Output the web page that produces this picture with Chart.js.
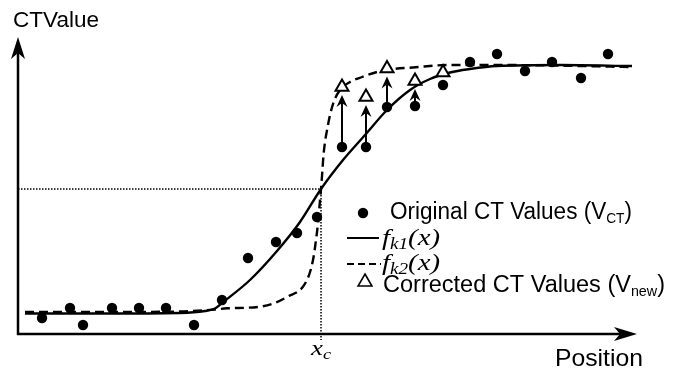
<!DOCTYPE html>
<html>
<head>
<meta charset="utf-8">
<script src="https://cdn.jsdelivr.net/npm/chart.js@4/dist/chart.umd.min.js"></script>
<style>
  html, body { margin: 0; padding: 0; background: #fff; }
  #wrap { width: 680px; height: 372px; position: relative; }
</style>
</head>
<body>
<div id="wrap"><canvas id="c"></canvas></div>
<script>
// ---- data (arbitrary units) ----
const originalX = [24, 52, 65, 94, 121, 148, 176, 204, 230, 258, 279, 299, 324, 348, 369, 397, 425, 452, 479, 507, 534, 563, 590];
const originalY = [16, 26, 9, 26, 26, 26, 9, 34, 76, 92, 101, 117, 187, 187, 227, 228, 249, 272, 280, 263, 272, 256, 280];

const correctedX = [324, 348, 369, 397, 425];
const correctedY = [247, 237, 265.5, 253, 261.5];
const correctedFrom = [187, 187, 227, 228, 249];

const fk1X = [7, 82, 162, 187, 197, 204, 232, 259, 282, 303, 325, 347, 369, 392, 412, 432, 452, 479, 542, 614];
const fk1Y = [20.5, 20.5, 21, 23, 25.5, 31, 54, 83, 112, 145, 174, 199, 224, 244, 255, 261.5, 265, 268, 269, 268];

const fk2X = [7, 82, 162, 197, 209, 242, 269, 289, 295, 298, 300, 301.5, 303, 304.3, 305.5, 310, 315, 322, 332, 344, 359, 375, 395, 429, 482, 614];
const fk2Y = [22, 22, 22.5, 24.5, 25.7, 27.3, 37, 54, 74, 94, 111, 128, 145, 162, 179, 209, 230, 244, 252, 257, 262, 265, 266.5, 269, 269, 267];

const xC = 303;       // critical position x_c
const fAtXc = 145;    // f(x_c)

const yAxisTitle = 'CTValue';
const xAxisTitle = 'Position';
const legendOriginal = ['Original CT Values (V', 'CT', ')'];
const legendFk1 = ['f', 'k1', '(x)'];
const legendFk2 = ['f', 'k2', '(x)'];
const legendCorrected = ['Corrected CT Values (V', 'new', ')'];
const xcLabel = ['x', 'c'];

const pts = (xs, ys) => xs.map((x, i) => ({ x, y: ys[i] }));

const SANS = '"Liberation Sans", Arial, sans-serif';
const SERIF = '"Liberation Serif", "Times New Roman", serif';

function drawRich(ctx, parts, x, y, targetW) {
  let w = 0;
  for (const p of parts) { ctx.font = p.font; w += ctx.measureText(p.t).width; }
  const sx = targetW ? targetW / w : 1;
  ctx.save();
  ctx.translate(x, y);
  ctx.scale(sx, 1);
  ctx.fillStyle = '#000';
  ctx.textBaseline = 'alphabetic';
  let cx = 0;
  for (const p of parts) {
    ctx.font = p.font;
    ctx.fillText(p.t, cx, p.dy || 0);
    cx += ctx.measureText(p.t).width;
  }
  ctx.restore();
}

function arrowHead(ctx, tx, ty, dir, len, half, notch) {
  ctx.beginPath();
  if (dir === 'up') {
    ctx.moveTo(tx, ty);
    ctx.lineTo(tx - half, ty + len);
    ctx.lineTo(tx, ty + len - notch);
    ctx.lineTo(tx + half, ty + len);
  } else {
    ctx.moveTo(tx, ty);
    ctx.lineTo(tx - len, ty - half);
    ctx.lineTo(tx - len + notch, ty);
    ctx.lineTo(tx - len, ty + half);
  }
  ctx.closePath();
  ctx.fill();
}

const decor = {
  id: 'decor',
  beforeDatasetsDraw(chart) {
    const { ctx, chartArea: a, scales: { x, y } } = chart;
    ctx.save();
    ctx.strokeStyle = '#000';
    ctx.fillStyle = '#000';
    // dotted guides
    ctx.lineWidth = 1.5;
    ctx.setLineDash([1.5, 1.5]);
    const px = x.getPixelForValue(xC), py = y.getPixelForValue(fAtXc);
    ctx.beginPath();
    ctx.moveTo(a.left, py); ctx.lineTo(px, py);
    ctx.moveTo(px, py); ctx.lineTo(px, a.bottom + 6);
    ctx.stroke();
    ctx.setLineDash([]);
    // axes
    ctx.lineWidth = 2.5;
    ctx.beginPath();
    ctx.moveTo(a.left, a.bottom + 1); ctx.lineTo(a.left, a.top + 10);
    ctx.moveTo(a.left - 1, a.bottom); ctx.lineTo(a.right - 10, a.bottom);
    ctx.stroke();
    arrowHead(ctx, a.left, a.top, 'up', 22, 7, 6);
    arrowHead(ctx, a.right, a.bottom, 'right', 23, 7, 6);
    // correction arrows
    ctx.lineWidth = 2;
    correctedX.forEach((cxv, i) => {
      if (correctedY[i] - correctedFrom[i] < 15) return;
      const ax = x.getPixelForValue(cxv);
      const y0 = y.getPixelForValue(correctedFrom[i]) - 4;
      const tip = y.getPixelForValue(correctedY[i]) + 8;
      ctx.beginPath();
      ctx.moveTo(ax, y0); ctx.lineTo(ax, tip + 8);
      ctx.stroke();
      arrowHead(ctx, ax, tip, 'up', 12, 5.5, 4);
    });
    ctx.restore();
  },
  afterDraw(chart) {
    const { ctx } = chart;
    ctx.save();
    // axis titles
    drawRich(ctx, [{ t: yAxisTitle, font: '22px ' + SANS }], 13, 27, 86);
    drawRich(ctx, [{ t: xAxisTitle, font: '24px ' + SANS }], 555, 366, 88);
    // x_c
    drawRich(ctx, [
      { t: xcLabel[0], font: 'italic 22px ' + SERIF },
      { t: xcLabel[1], font: 'italic 15px ' + SERIF, dy: 4 }
    ], 311, 355, 20);
    // legend markers
    ctx.fillStyle = '#000';
    ctx.strokeStyle = '#000';
    ctx.beginPath(); ctx.arc(363, 213, 5.2, 0, Math.PI * 2); ctx.fill();
    ctx.lineWidth = 2;
    ctx.beginPath(); ctx.moveTo(347, 238); ctx.lineTo(379, 238); ctx.stroke();
    ctx.setLineDash([7, 4]);
    ctx.beginPath(); ctx.moveTo(347, 264); ctx.lineTo(381, 264); ctx.stroke();
    ctx.setLineDash([]);
    ctx.lineWidth = 1.6;
    const r = 8, tcx = 365, tcy = 282;
    ctx.beginPath();
    ctx.moveTo(tcx, tcy - r);
    ctx.lineTo(tcx + r * Math.sin(2 * Math.PI / 3), tcy - r * Math.cos(2 * Math.PI / 3));
    ctx.lineTo(tcx + r * Math.sin(4 * Math.PI / 3), tcy - r * Math.cos(4 * Math.PI / 3));
    ctx.closePath(); ctx.stroke();
    // legend texts
    drawRich(ctx, [
      { t: legendOriginal[0], font: '23px ' + SANS },
      { t: legendOriginal[1], font: '14px ' + SANS, dy: 4 },
      { t: legendOriginal[2], font: '23px ' + SANS }
    ], 390, 219, 242);
    drawRich(ctx, [
      { t: legendFk1[0], font: 'italic 24px ' + SERIF },
      { t: legendFk1[1], font: 'italic 16px ' + SERIF, dy: 4 },
      { t: legendFk1[2], font: 'italic 24px ' + SERIF }
    ], 382, 245, 58);
    drawRich(ctx, [
      { t: legendFk2[0], font: 'italic 24px ' + SERIF },
      { t: legendFk2[1], font: 'italic 16px ' + SERIF, dy: 4 },
      { t: legendFk2[2], font: 'italic 24px ' + SERIF }
    ], 382, 270, 58);
    drawRich(ctx, [
      { t: legendCorrected[0], font: '23px ' + SANS },
      { t: legendCorrected[1], font: '14px ' + SANS, dy: 4 },
      { t: legendCorrected[2], font: '23px ' + SANS }
    ], 383, 292, 282);
    ctx.restore();
  }
};

new Chart(document.getElementById('c'), {
  type: 'scatter',
  data: {
    datasets: [
      {
        label: 'Corrected CT Values',
        data: pts(correctedX, correctedY),
        pointStyle: 'triangle',
        pointRadius: 7.5,
        backgroundColor: '#fff',
        borderColor: '#000',
        borderWidth: 2,
        showLine: false,
        order: 0
      },
      {
        label: 'Original CT Values',
        data: pts(originalX, originalY),
        pointStyle: 'circle',
        pointRadius: 5.2,
        backgroundColor: '#000',
        borderColor: '#000',
        borderWidth: 0,
        showLine: false,
        order: 1
      },
      {
        label: 'fk2',
        data: pts(fk2X, fk2Y),
        showLine: true,
        pointRadius: 0,
        borderColor: '#000',
        borderWidth: 2.4,
        borderDash: [9, 5],
        cubicInterpolationMode: 'monotone',
        fill: false,
        order: 2
      },
      {
        label: 'fk1',
        data: pts(fk1X, fk1Y),
        showLine: true,
        pointRadius: 0,
        borderColor: '#000',
        borderWidth: 2.4,
        cubicInterpolationMode: 'monotone',
        fill: false,
        order: 3
      }
    ]
  },
  options: {
    responsive: true,
    maintainAspectRatio: false,
    animation: false,
    events: [],
    layout: { padding: { left: 18, right: 43, top: 37, bottom: 38 } },
    plugins: { legend: { display: false }, tooltip: { enabled: false } },
    scales: {
      x: { type: 'linear', min: 0, max: 619, display: false },
      y: { type: 'linear', min: 0, max: 297, display: false }
    },
    elements: { line: { borderCapStyle: 'butt' } }
  },
  plugins: [decor]
});
</script>
</body>
</html>
